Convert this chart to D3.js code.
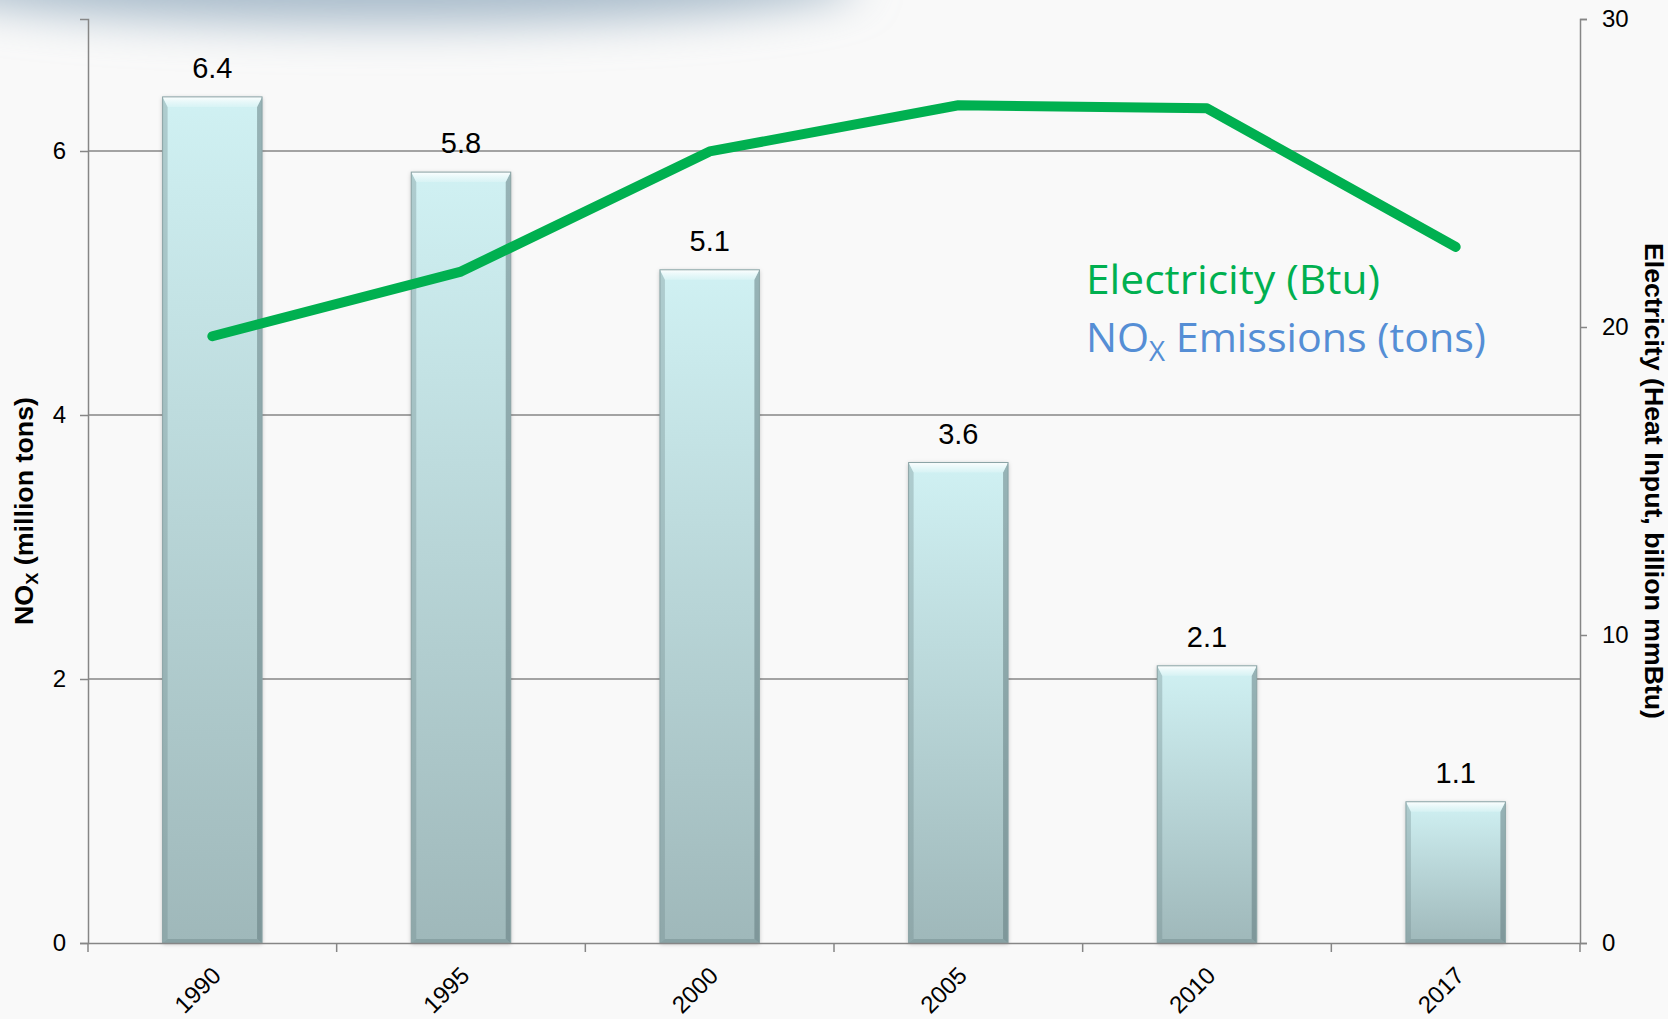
<!DOCTYPE html>
<html>
<head>
<meta charset="utf-8">
<script src="https://cdn.jsdelivr.net/npm/d3@7"></script>
<style>
  html, body { margin: 0; padding: 0; background: #f9f9f9; }
  svg { display: block; }
  .tick text { font-family: "Liberation Sans", Arial, sans-serif; fill: #000; }
</style>
</head>
<body>
<svg id="chart" width="1668" height="1019"></svg>
<script>
const years = ['1990', '1995', '2000', '2005', '2010', '2017'];
const noxValues = [6.41, 5.84, 5.10, 3.64, 2.10, 1.07];
const electricityValues = [19.7, 21.8, 25.7, 27.2, 27.1, 22.6];
const leftTicks = [0, 2, 4, 6];
const rightTicks = [0, 10, 20, 30];

const W = 1668, H = 1019;
const margin = {top: 19, right: 88, bottom: 76, left: 88};
const plotW = W - margin.left - margin.right;
const plotH = H - margin.top - margin.bottom;

const svg = d3.select('#chart');
const defs = svg.append('defs');

// soft shadow at the top of the slide
defs.append('filter').attr('id', 'blurTop')
    .attr('x', '-50%').attr('y', '-100%').attr('width', '200%').attr('height', '300%')
    .append('feGaussianBlur').attr('stdDeviation', 22);

svg.append('rect').attr('width', W).attr('height', H).attr('fill', '#f9f9f9');
svg.append('ellipse')
    .attr('cx', 390).attr('cy', -18)
    .attr('rx', 470).attr('ry', 42)
    .attr('fill', '#a9bccb')
    .attr('filter', 'url(#blurTop)');

// bar gradients
const barGrad = defs.append('linearGradient').attr('id', 'barGrad')
    .attr('x1', 0).attr('y1', 0).attr('x2', 0).attr('y2', 1);
barGrad.append('stop').attr('offset', '0%').attr('stop-color', '#d0f1f3');
barGrad.append('stop').attr('offset', '100%').attr('stop-color', '#9fb8ba');

const topBevel = defs.append('linearGradient').attr('id', 'topBevel')
    .attr('x1', 0).attr('y1', 0).attr('x2', 0).attr('y2', 1);
topBevel.append('stop').attr('offset', '0%').attr('stop-color', '#ffffff').attr('stop-opacity', 0.95);
topBevel.append('stop').attr('offset', '100%').attr('stop-color', '#e6f8f9').attr('stop-opacity', 0.4);

const barShadow = defs.append('filter').attr('id', 'barShadow')
    .attr('x', '-20%').attr('y', '-5%').attr('width', '140%').attr('height', '110%');
barShadow.append('feDropShadow')
    .attr('dx', 0).attr('dy', 1).attr('stdDeviation', 2)
    .attr('flood-color', '#000').attr('flood-opacity', 0.25);

const g = svg.append('g').attr('transform', `translate(${margin.left},${margin.top})`);

const x = d3.scaleBand().domain(years).range([0, plotW]).paddingInner(0.6).paddingOuter(0.3);
const yLeft = d3.scaleLinear().domain([0, 7]).range([plotH, 0]);
const yRight = d3.scaleLinear().domain([0, 30]).range([plotH, 0]);

const axisColor = '#868686';

// gridlines
g.append('g').selectAll('line')
    .data(leftTicks.filter(d => d > 0))
    .join('line')
    .attr('x1', 0).attr('x2', plotW)
    .attr('y1', d => yLeft(d)).attr('y2', d => yLeft(d))
    .attr('stroke', axisColor).attr('stroke-width', 1.5);

// bars
const barData = years.map((yr, i) => ({yr, v: noxValues[i]}));
const bars = g.append('g').selectAll('g')
    .data(barData)
    .join('g')
    .attr('transform', d => `translate(${x(d.yr)},${yLeft(d.v)})`);

const bw = x.bandwidth();
const bev = 10;
bars.append('rect')
    .attr('width', bw)
    .attr('height', d => plotH - yLeft(d.v))
    .attr('fill', 'url(#barGrad)')
    .attr('filter', 'url(#barShadow)');
// side bevels
bars.append('path')
    .attr('d', d => {
        const h = plotH - yLeft(d.v);
        return `M0,0 L${bev * 0.5},${bev} L${bev * 0.5},${h - 4} L0,${h} Z`;
    })
    .attr('fill', '#6f8a8c').attr('opacity', 0.35);
bars.append('path')
    .attr('d', d => {
        const h = plotH - yLeft(d.v);
        return `M${bw},0 L${bw - bev * 0.5},${bev} L${bw - bev * 0.5},${h - 4} L${bw},${h} Z`;
    })
    .attr('fill', '#5d7679').attr('opacity', 0.5);
// top bevel highlight
bars.append('path')
    .attr('d', `M0,0 L${bw},0 L${bw - bev * 0.5},${bev} L${bev * 0.5},${bev} Z`)
    .attr('fill', 'url(#topBevel)');
// bottom bevel
bars.append('path')
    .attr('d', d => {
        const h = plotH - yLeft(d.v);
        return `M0,${h} L${bev * 0.5},${h - 4} L${bw - bev * 0.5},${h - 4} L${bw},${h} Z`;
    })
    .attr('fill', '#6d8789').attr('opacity', 0.45);
bars.append('rect')
    .attr('width', bw)
    .attr('height', d => plotH - yLeft(d.v))
    .attr('fill', 'none')
    .attr('stroke', '#8aa3a5').attr('stroke-width', 1);

// value labels
g.append('g').selectAll('text')
    .data(barData)
    .join('text')
    .attr('x', d => x(d.yr) + bw / 2)
    .attr('y', d => yLeft(d.v) - 19)
    .attr('text-anchor', 'middle')
    .attr('font-family', '"Liberation Sans", Arial, sans-serif')
    .attr('font-size', 29)
    .attr('fill', '#000')
    .text(d => d.v.toFixed(1));

// electricity line
const line = d3.line()
    .x((d, i) => x(years[i]) + bw / 2)
    .y(d => yRight(d));
g.append('path')
    .datum(electricityValues)
    .attr('d', line)
    .attr('fill', 'none')
    .attr('stroke', '#00b050')
    .attr('stroke-width', 10)
    .attr('stroke-linecap', 'round')
    .attr('stroke-linejoin', 'round');

// left axis
const leftAxis = g.append('g')
    .call(d3.axisLeft(yLeft).tickValues(leftTicks).tickSize(8).tickPadding(14).tickFormat(d3.format('d')));
leftAxis.selectAll('text').attr('font-size', 24);

// right axis
const rightAxis = g.append('g')
    .attr('transform', `translate(${plotW},0)`)
    .call(d3.axisRight(yRight).tickValues(rightTicks).tickSize(7).tickPadding(15).tickFormat(d3.format('d')));
rightAxis.selectAll('text').attr('font-size', 24);

// bottom axis: labels from band scale, ticks at band boundaries
const bottomAxis = g.append('g')
    .attr('transform', `translate(0,${plotH})`)
    .call(d3.axisBottom(x).tickSize(0).tickPadding(0));
bottomAxis.selectAll('.tick text')
    .attr('font-size', 24)
    .attr('text-anchor', 'end')
    .attr('dy', 0)
    .attr('transform', 'translate(10,34) rotate(-45)');
bottomAxis.append('g').selectAll('line')
    .data(d3.range(years.length + 1))
    .join('line')
    .attr('x1', i => i * x.step()).attr('x2', i => i * x.step())
    .attr('y1', 0).attr('y2', 9)
    .attr('stroke', axisColor).attr('stroke-width', 1.5);

[leftAxis, rightAxis, bottomAxis].forEach(a => {
    a.selectAll('path.domain').attr('stroke', axisColor).attr('stroke-width', 1.5);
    a.selectAll('.tick line').attr('stroke', axisColor).attr('stroke-width', 1.5);
});

// axis titles
const leftTitle = svg.append('text')
    .attr('transform', `translate(33,${margin.top + plotH / 2 + 30}) rotate(-90)`)
    .attr('text-anchor', 'middle')
    .attr('font-family', '"Liberation Sans", Arial, sans-serif')
    .attr('font-weight', 'bold')
    .attr('font-size', 25)
    .attr('fill', '#000')
    .attr('textLength', 228).attr('lengthAdjust', 'spacingAndGlyphs');
leftTitle.append('tspan').text('NO');
leftTitle.append('tspan').attr('font-size', 17).attr('dy', 5).text('X');
leftTitle.append('tspan').attr('dy', -5).text(' (million tons)');

svg.append('text')
    .attr('transform', `translate(1645,${margin.top + plotH / 2}) rotate(90)`)
    .attr('text-anchor', 'middle')
    .attr('font-family', '"Liberation Sans", Arial, sans-serif')
    .attr('font-weight', 'bold')
    .attr('font-size', 25)
    .attr('fill', '#000')
    .attr('textLength', 476).attr('lengthAdjust', 'spacingAndGlyphs')
    .text('Electricity (Heat Input, billion mmBtu)');

// legend texts
const legendFont = '"Open Sans", "Noto Sans", sans-serif';
svg.append('text')
    .attr('x', 1086).attr('y', 294)
    .attr('font-family', legendFont)
    .attr('font-size', 40)
    .attr('fill', '#00b050')
    .attr('textLength', 294).attr('lengthAdjust', 'spacingAndGlyphs')
    .text('Electricity (Btu)');

const noxLegend = svg.append('text')
    .attr('x', 1086).attr('y', 352)
    .attr('font-family', legendFont)
    .attr('font-size', 40)
    .attr('fill', '#558ed5')
    .attr('textLength', 400).attr('lengthAdjust', 'spacingAndGlyphs');
noxLegend.append('tspan').text('NO');
noxLegend.append('tspan').attr('font-size', 27).attr('dy', 9).text('X');
noxLegend.append('tspan').attr('dy', -9).text(' Emissions (tons)');
</script>
</body>
</html>
